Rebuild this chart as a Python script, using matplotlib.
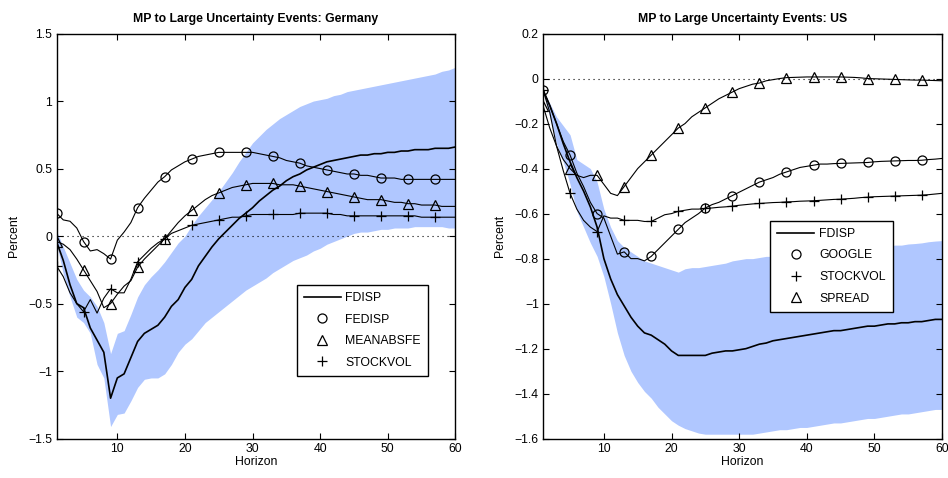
import numpy as np
import matplotlib
matplotlib.use('Agg')
import matplotlib.pyplot as plt
from matplotlib.ticker import FuncFormatter

plt.rcParams['font.family'] = ['Liberation Sans', 'DejaVu Sans']

# horizonte 1..60
horizon = np.arange(1, 61)

# Germany
de_fdisp = [-0.04, -0.18, -0.36, -0.50, -0.53, -0.68, -0.77, -0.86, -1.20, -1.05,
            -1.02, -0.90, -0.78, -0.72, -0.69, -0.66, -0.60, -0.52, -0.47, -0.38,
            -0.32, -0.22, -0.15, -0.08, -0.02, 0.03, 0.08, 0.13, 0.17, 0.21,
            0.26, 0.30, 0.34, 0.37, 0.41, 0.44, 0.46, 0.49, 0.51, 0.53,
            0.55, 0.56, 0.57, 0.58, 0.59, 0.60, 0.60, 0.61, 0.61, 0.62,
            0.62, 0.63, 0.63, 0.64, 0.64, 0.64, 0.65, 0.65, 0.65, 0.66]
de_fedisp = [0.17, 0.12, 0.11, 0.06, -0.04, -0.11, -0.10, -0.13, -0.17, -0.03,
             0.03, 0.10, 0.21, 0.28, 0.34, 0.40, 0.44, 0.49, 0.52, 0.55,
             0.57, 0.59, 0.60, 0.61, 0.62, 0.62, 0.62, 0.62, 0.62, 0.62,
             0.61, 0.60, 0.59, 0.58, 0.56, 0.55, 0.54, 0.52, 0.51, 0.50,
             0.49, 0.48, 0.47, 0.46, 0.46, 0.45, 0.45, 0.44, 0.43, 0.43,
             0.43, 0.42, 0.42, 0.42, 0.42, 0.42, 0.42, 0.42, 0.42, 0.42]
de_meanabsfe = [-0.04, -0.06, -0.10, -0.17, -0.25, -0.33, -0.41, -0.53, -0.50, -0.43,
                -0.37, -0.33, -0.23, -0.17, -0.12, -0.07, -0.02, 0.04, 0.10, 0.15,
                0.19, 0.23, 0.27, 0.30, 0.32, 0.34, 0.36, 0.37, 0.38, 0.39,
                0.39, 0.39, 0.39, 0.38, 0.38, 0.38, 0.37, 0.36, 0.35, 0.34,
                0.33, 0.32, 0.31, 0.30, 0.29, 0.28, 0.27, 0.27, 0.27, 0.26,
                0.25, 0.25, 0.24, 0.24, 0.23, 0.23, 0.23, 0.22, 0.22, 0.22]
de_stockvol = [-0.22, -0.30, -0.42, -0.50, -0.56, -0.47, -0.57, -0.46, -0.39, -0.42,
               -0.42, -0.32, -0.19, -0.14, -0.09, -0.05, -0.02, 0.02, 0.04, 0.06,
               0.08, 0.09, 0.10, 0.11, 0.12, 0.13, 0.14, 0.14, 0.15, 0.16,
               0.16, 0.16, 0.16, 0.16, 0.16, 0.16, 0.17, 0.17, 0.17, 0.17,
               0.17, 0.16, 0.16, 0.15, 0.15, 0.15, 0.15, 0.15, 0.15, 0.15,
               0.15, 0.15, 0.15, 0.15, 0.14, 0.14, 0.14, 0.14, 0.14, 0.14]
de_hi = [0.04, -0.08, -0.20, -0.32, -0.40, -0.45, -0.52, -0.64, -0.87, -0.72,
         -0.70, -0.58, -0.45, -0.36, -0.30, -0.25, -0.19, -0.12, -0.05, 0.00,
         0.08, 0.15, 0.21, 0.27, 0.33, 0.40, 0.47, 0.55, 0.62, 0.69,
         0.74, 0.79, 0.83, 0.87, 0.90, 0.93, 0.96, 0.98, 1.00, 1.01,
         1.02, 1.04, 1.05, 1.07, 1.08, 1.09, 1.10, 1.11, 1.12, 1.13,
         1.14, 1.15, 1.16, 1.17, 1.18, 1.19, 1.20, 1.22, 1.23, 1.25]
de_lo = [-0.05, -0.28, -0.45, -0.60, -0.64, -0.72, -0.95, -1.05, -1.41, -1.32,
         -1.31, -1.22, -1.12, -1.06, -1.05, -1.05, -1.02, -0.95, -0.86, -0.80,
         -0.76, -0.70, -0.64, -0.60, -0.56, -0.52, -0.48, -0.44, -0.40, -0.37,
         -0.34, -0.31, -0.27, -0.24, -0.21, -0.18, -0.16, -0.14, -0.11, -0.09,
         -0.06, -0.04, -0.02, 0.00, 0.02, 0.03, 0.03, 0.04, 0.05, 0.05,
         0.06, 0.06, 0.06, 0.07, 0.07, 0.07, 0.07, 0.07, 0.06, 0.06]

# US
us_fdisp = [-0.05, -0.12, -0.20, -0.29, -0.37, -0.44, -0.50, -0.57, -0.66, -0.80,
            -0.89, -0.96, -1.01, -1.06, -1.10, -1.13, -1.14, -1.16, -1.18, -1.21,
            -1.23, -1.23, -1.23, -1.23, -1.23, -1.22, -1.215, -1.21, -1.21, -1.205,
            -1.20, -1.19, -1.18, -1.175, -1.165, -1.16, -1.155, -1.15, -1.145, -1.14,
            -1.135, -1.13, -1.125, -1.12, -1.12, -1.115, -1.11, -1.105, -1.10, -1.10,
            -1.095, -1.09, -1.09, -1.085, -1.085, -1.08, -1.08, -1.075, -1.07, -1.07]
us_google = [-0.05, -0.12, -0.20, -0.28, -0.34, -0.42, -0.48, -0.55, -0.60, -0.62,
             -0.70, -0.78, -0.77, -0.80, -0.80, -0.81, -0.79, -0.76, -0.73, -0.70,
             -0.67, -0.64, -0.62, -0.60, -0.575, -0.56, -0.55, -0.535, -0.52, -0.505,
             -0.49, -0.475, -0.46, -0.45, -0.44, -0.425, -0.415, -0.405, -0.395, -0.39,
             -0.385, -0.38, -0.38, -0.378, -0.377, -0.376, -0.375, -0.374, -0.373, -0.37,
             -0.368, -0.367, -0.366, -0.365, -0.364, -0.364, -0.363, -0.36, -0.358, -0.355]
us_stockvol = [-0.05, -0.15, -0.30, -0.41, -0.51, -0.58, -0.63, -0.66, -0.68, -0.61,
               -0.62, -0.62, -0.63, -0.63, -0.63, -0.635, -0.635, -0.62, -0.605, -0.60,
               -0.59, -0.585, -0.58, -0.58, -0.577, -0.575, -0.572, -0.57, -0.567, -0.563,
               -0.56, -0.557, -0.555, -0.553, -0.551, -0.55, -0.548, -0.547, -0.545, -0.544,
               -0.543, -0.541, -0.539, -0.537, -0.536, -0.534, -0.532, -0.529, -0.527, -0.525,
               -0.524, -0.523, -0.522, -0.521, -0.52, -0.519, -0.518, -0.516, -0.513, -0.51]
us_spread = [-0.12, -0.22, -0.30, -0.36, -0.40, -0.43, -0.44, -0.43, -0.43, -0.47,
             -0.51, -0.52, -0.48, -0.44, -0.40, -0.37, -0.34, -0.31, -0.28, -0.25,
             -0.22, -0.20, -0.17, -0.15, -0.13, -0.11, -0.09, -0.075, -0.06, -0.045,
             -0.035, -0.025, -0.02, -0.01, -0.005, 0.0, 0.004, 0.005, 0.006, 0.007,
             0.007, 0.007, 0.007, 0.007, 0.007, 0.006, 0.005, 0.003, 0.0, -0.001,
             -0.002, -0.003, -0.004, -0.005, -0.006, -0.007, -0.007, -0.008, -0.009, -0.01]
us_hi = [-0.05, -0.11, -0.17, -0.21, -0.25, -0.36, -0.38, -0.40, -0.46, -0.58,
         -0.66, -0.72, -0.75, -0.77, -0.79, -0.81, -0.82, -0.83, -0.84, -0.85,
         -0.86, -0.845, -0.84, -0.84, -0.835, -0.83, -0.825, -0.82, -0.81, -0.805,
         -0.80, -0.80, -0.795, -0.79, -0.79, -0.785, -0.785, -0.78, -0.775, -0.77,
         -0.77, -0.765, -0.76, -0.76, -0.755, -0.755, -0.75, -0.75, -0.75, -0.75,
         -0.745, -0.745, -0.74, -0.74, -0.735, -0.733, -0.73, -0.725, -0.722, -0.72]
us_lo = [-0.06, -0.17, -0.29, -0.37, -0.47, -0.59, -0.66, -0.73, -0.79, -0.88,
         -1.00, -1.13, -1.23, -1.30, -1.35, -1.39, -1.42, -1.46, -1.49, -1.52,
         -1.54, -1.555, -1.565, -1.575, -1.58, -1.58, -1.58, -1.58, -1.58, -1.58,
         -1.58, -1.58, -1.575, -1.57, -1.565, -1.56, -1.56, -1.555, -1.55, -1.55,
         -1.545, -1.54, -1.535, -1.53, -1.53, -1.525, -1.52, -1.515, -1.51, -1.51,
         -1.505, -1.50, -1.495, -1.49, -1.49, -1.485, -1.48, -1.475, -1.47, -1.47]

band_color = (0.69, 0.78, 1.0)
fs = 8.8


def fmt(v, pos):
    return ('%g' % round(v, 3)).replace('-', '\u2212')


def panel(ax, title, lo, hi, main, others, yticks, ylim, legend_anchor):
    ax.fill_between(horizon, lo, hi, color=band_color, linewidth=0)
    ax.axhline(0, color='k', linestyle=(0, (1, 3.5)), linewidth=0.8)
    ax.plot(horizon, main, 'k-', linewidth=1.2, label='FDISP')
    for name, vals, mk, ms in others:
        ax.plot(horizon, vals, 'k-', linewidth=0.8)
        ax.plot(horizon[::4], np.array(vals)[::4], linestyle='none', marker=mk,
                markersize=ms, markerfacecolor='none', markeredgecolor='k',
                markeredgewidth=0.9, label=name)
    ax.set_xlim(1, 60)
    ax.set_ylim(*ylim)
    ax.set_xticks([10, 20, 30, 40, 50, 60])
    ax.set_yticks(yticks)
    ax.yaxis.set_major_formatter(FuncFormatter(fmt))
    ax.tick_params(direction='in', top=True, right=True, length=4,
                   width=0.8, labelsize=fs, pad=3)
    for s in ax.spines.values():
        s.set_linewidth(1.0)
    ax.set_title(title, fontsize=fs, fontweight='bold', pad=8)
    ax.set_xlabel('Horizon', fontsize=fs, labelpad=1)
    ax.set_ylabel('Percent', fontsize=fs, labelpad=6)
    leg = ax.legend(loc='lower left', bbox_to_anchor=legend_anchor,
                    fontsize=fs, frameon=True, fancybox=False, framealpha=1,
                    edgecolor='k', handlelength=3.0, handletextpad=0.4,
                    labelspacing=0.78, borderpad=0.6, borderaxespad=0)
    leg.get_frame().set_linewidth(1.0)


fig = plt.figure(figsize=(9.48, 4.78), dpi=100)
ax1 = fig.add_axes([0.0596, 0.0822, 0.4207, 0.8477])
ax2 = fig.add_axes([0.5728, 0.0822, 0.4209, 0.8477])

panel(ax1, 'MP to Large Uncertainty Events: Germany', de_lo, de_hi, de_fdisp,
      [('FEDISP', de_fedisp, 'o', 6.5),
       ('MEANABSFE', de_meanabsfe, '^', 7),
       ('STOCKVOL', de_stockvol, '+', 7)],
      [-1.5, -1, -0.5, 0, 0.5, 1, 1.5], (-1.5, 1.5), (0.602, 0.155))

panel(ax2, 'MP to Large Uncertainty Events: US', us_lo, us_hi, us_fdisp,
      [('GOOGLE', us_google, 'o', 6.5),
       ('STOCKVOL', us_stockvol, '+', 7),
       ('SPREAD', us_spread, '^', 7)],
      [-1.6, -1.4, -1.2, -1, -0.8, -0.6, -0.4, -0.2, 0, 0.2], (-1.6, 0.2),
      (0.569, 0.313))

fig.savefig('out.png', dpi=100)
